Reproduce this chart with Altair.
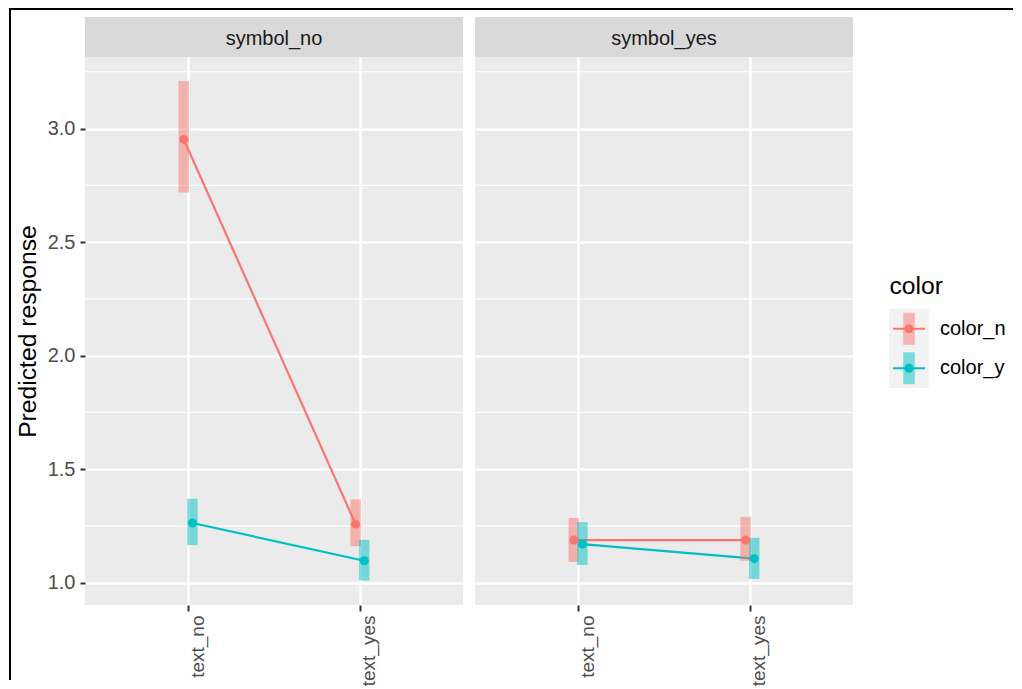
import json
import altair as alt
import pandas as pd

FONT = "Liberation Sans"

# ---- data ----
symbols = ["symbol_no", "symbol_yes"]
texts = ["text_no", "text_yes"]
colors = ["color_no", "color_yes"]
palette = ["#F8766D", "#00BFC4"]

row_symbol = ["symbol_no"] * 4 + ["symbol_yes"] * 4
row_color = ["color_no", "color_no", "color_yes", "color_yes"] * 2
row_text = ["text_no", "text_yes"] * 4
estimate = [2.952, 1.258, 1.263, 1.097, 1.188, 1.188, 1.170, 1.106]
lower = [2.718, 1.161, 1.166, 1.010, 1.092, 1.097, 1.078, 1.017]
upper = [3.208, 1.367, 1.370, 1.189, 1.285, 1.290, 1.267, 1.198]

major_ticks = [1.0, 1.5, 2.0, 2.5, 3.0]
minor_ticks = [1.25, 1.75, 2.25, 2.75, 3.25]
y_domain = [0.902, 3.315]
x_domain = [-0.6, 1.6]
dodge_width = 0.1

df = pd.DataFrame({
    "symbol": row_symbol, "color": row_color, "text": row_text,
    "estimate": estimate, "lower": lower, "upper": upper,
})
df["x"] = [texts.index(t) + (-dodge_width / 4 if c == colors[0] else dodge_width / 4)
           for t, c in zip(df["text"], df["color"])]

W, H = 378, 548
label_expr = json.dumps(texts) + "[datum.value]"

yscale = alt.Scale(domain=y_domain, nice=False, zero=False)
xscale = alt.Scale(domain=x_domain, nice=False, zero=False)
color_enc = alt.Color("color:N", scale=alt.Scale(domain=colors, range=palette), legend=None)


def panel(sym, first):
    d = df[df["symbol"] == sym]
    yaxis = alt.Axis(values=major_ticks, format=".1f", grid=True, gridColor="white",
                     gridWidth=2.4, domain=False, ticks=first, tickColor="#333333",
                     tickWidth=2, tickSize=5, labels=first, labelColor="#4D4D4D",
                     labelFontSize=20, labelFont=FONT, labelPadding=5,
                     title="Predicted response" if first else None,
                     titleFont=FONT, titleFontSize=24.7, titleFontWeight="normal",
                     titleColor="black", titlePadding=7)
    xaxis = alt.Axis(values=[0, 1], labelExpr=label_expr, grid=True, gridColor="white",
                     gridWidth=2.4, domain=False, tickColor="#333333", tickWidth=2,
                     tickSize=6, labelAngle=270, labelAlign="right", labelBaseline="top",
                     labelPadding=4, labelColor="#4D4D4D", labelFontSize=19,
                     labelFont=FONT, title=None)
    xenc = alt.X("x:Q", scale=xscale, axis=xaxis)
    base = alt.Chart(d)
    minor = alt.Chart(pd.DataFrame({"v": minor_ticks})).mark_rule(
        color="white", strokeWidth=1.2).encode(y=alt.Y("v:Q", scale=yscale, axis=yaxis))
    lines = base.mark_line(strokeWidth=2.2).encode(
        x=xenc, y=alt.Y("estimate:Q", scale=yscale, axis=yaxis), color=color_enc)
    bars = base.mark_rule(strokeWidth=10.5, opacity=0.5).encode(
        x=xenc, y=alt.Y("lower:Q", scale=yscale, axis=yaxis), y2="upper:Q", color=color_enc)
    pts = base.mark_point(filled=True, size=80, opacity=1).encode(
        x=xenc, y=alt.Y("estimate:Q", scale=yscale, axis=yaxis), color=color_enc)
    strip_df = pd.DataFrame({"label": [sym]})
    strip_rect = alt.Chart(strip_df).mark_rect(color="#D9D9D9").encode(
        x=alt.value(0), x2=alt.value(W), y=alt.value(-40), y2=alt.value(0))
    strip_txt = alt.Chart(strip_df).mark_text(
        font=FONT, fontSize=20, color="#1A1A1A", baseline="alphabetic", align="center").encode(
        x=alt.value(W / 2), y=alt.value(-12), text="label:N")
    layers = [minor, lines, bars, pts, strip_rect, strip_txt]
    if first:
        border_top = alt.Chart(strip_df).mark_rule(color="black", strokeWidth=2).encode(
            x=alt.value(-76), x2=alt.value(928), y=alt.value(-48))
        border_left = alt.Chart(strip_df).mark_rule(color="black", strokeWidth=2).encode(
            x=alt.value(-75), y=alt.value(-49), y2=alt.value(623))
        layers += [border_top, border_left]
    return alt.layer(*layers).properties(
        width=W, height=H, view=alt.ViewBackground(fill="#EBEBEB", stroke=None))


# ---- legend drawn as its own small chart ----
leg = pd.DataFrame({"color": colors})
ly = alt.Y("color:N", scale=alt.Scale(type="band", domain=colors, range=[252, 331],
                                      paddingInner=0, paddingOuter=0), axis=None)
key_bg = alt.Chart(leg).mark_rect(color="#F2F2F2").encode(
    x=alt.value(24), x2=alt.value(64), y=ly)
key_bar = alt.Chart(leg).mark_point(
    shape="M-0.36,-1L0.36,-1L0.36,1L-0.36,1Z", filled=True, size=1024, opacity=0.5,
    strokeWidth=0).encode(x=alt.value(44), y=ly, color=color_enc)
key_line = alt.Chart(leg).mark_point(
    shape="M-1,-0.0625L1,-0.0625L1,0.0625L-1,0.0625Z", filled=True, size=1024, opacity=1,
    strokeWidth=0).encode(x=alt.value(44), y=ly, color=color_enc)
key_pt = alt.Chart(leg).mark_point(filled=True, size=80, opacity=1).encode(
    x=alt.value(44), y=ly, color=color_enc)
# the label runs into the page edge, as in the reference: cut it to the space left
key_txt = alt.Chart(leg).mark_text(
    align="left", baseline="middle", font=FONT, fontSize=20, color="black",
    limit=73, ellipsis="\u200b").encode(x=alt.value(75), y=ly, text="color:N")
leg_title = alt.Chart(pd.DataFrame({"t": ["color"]})).mark_text(
    align="left", baseline="alphabetic", font=FONT, fontSize=24.7, color="black").encode(
    x=alt.value(24.5), y=alt.value(237), text="t:N")
legend = alt.layer(key_bg, key_bar, key_line, key_pt, key_txt, leg_title).properties(
    width=140, height=H, view=alt.ViewBackground(fill=None, stroke=None))

# fixed canvas (1006 x 673, inside the page margins): origin at the first panel's corner
chart = alt.hconcat(panel(symbols[0], True), panel(symbols[1], False), legend,
                    spacing=12, bounds="flush").properties(
    autosize=alt.AutoSizeParams(type="none"),
    padding={"left": 77, "top": 49, "right": 929, "bottom": 624}
).configure_view(stroke=None)

chart.save("out.html", embed_options={"renderer": "svg", "actions": False})
